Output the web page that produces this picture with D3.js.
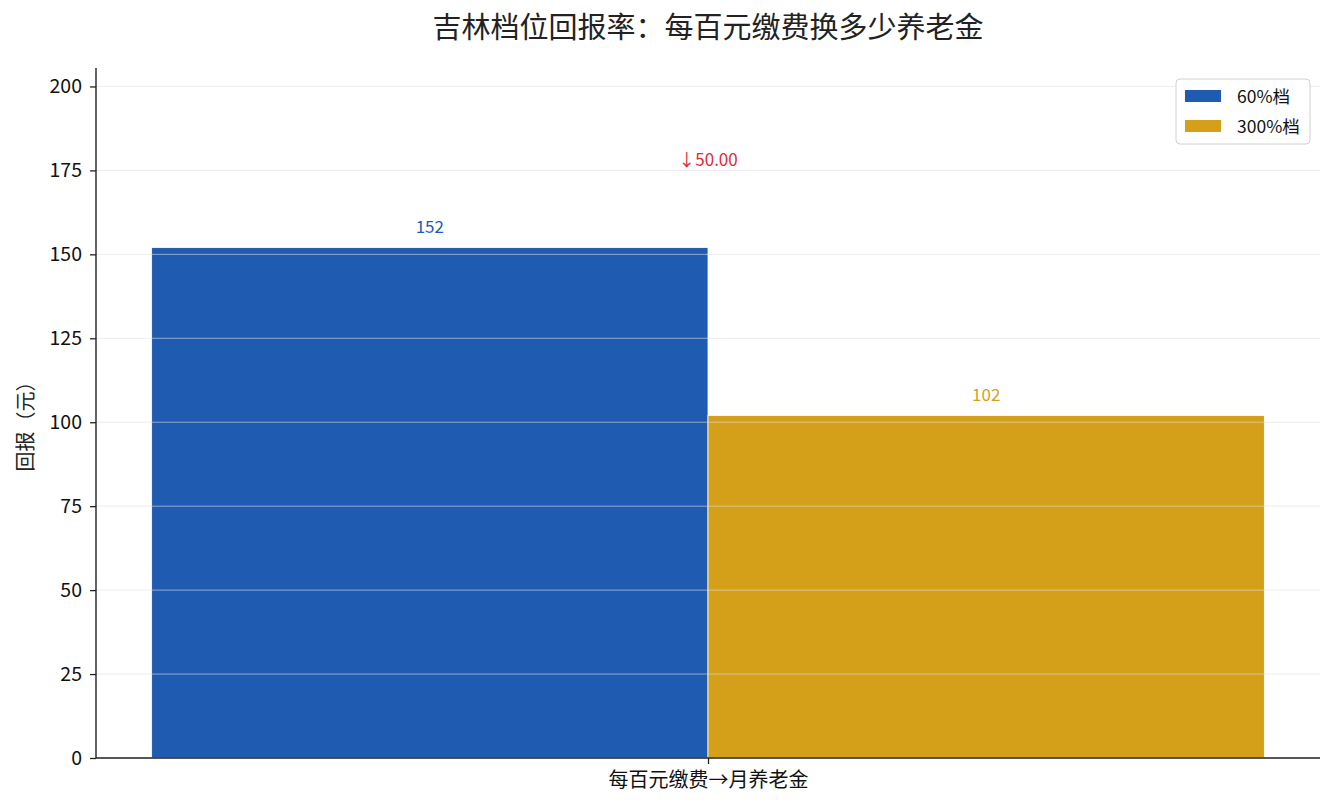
<!DOCTYPE html>
<html>
<head>
<meta charset="utf-8">
<script src="https://cdn.jsdelivr.net/npm/d3@7"></script>
<style>
  body { margin: 0; background: #fff; }
  svg { font-family: "Noto Sans CJK SC", "Noto Sans", sans-serif; }
</style>
</head>
<body>
<svg id="chart" width="1335" height="810"></svg>
<script>
// 数据
const groups = ["每百元缴费→月养老金"];
const seriesNames = ["60%档", "300%档"];
const seriesValues = [152, 102];
const seriesColors = ["#1f5bb0", "#d4a01a"];
const diffLabel = "↓50.00";
const yTicks = [0, 25, 50, 75, 100, 125, 150, 175, 200];

const svg = d3.select("#chart");
const margin = { left: 96, right: 15, top: 69, bottom: 52 };
const W = 1335, H = 810;
const innerW = W - margin.left - margin.right;
const innerH = H - margin.top - margin.bottom;

const g = svg.append("g").attr("transform", `translate(${margin.left},${margin.top})`);

// 比例尺：柱宽0.4，两个柱子并排，左右留边
const barW = 0.4;
const x = d3.scaleLinear().domain([-0.44, 0.44]).range([0, innerW]);
const yMax = d3.max(seriesValues) * 1.35;
const y = d3.scaleLinear().domain([0, yMax]).range([innerH, 0]);

// 柱子
const bars = seriesValues.map((v, i) => ({
  name: seriesNames[i],
  value: v,
  color: seriesColors[i],
  pos: (i - 0.5) * barW
}));

g.selectAll("rect.bar")
  .data(bars)
  .enter()
  .append("rect")
  .attr("class", "bar")
  .attr("x", (d) => x(d.pos - barW / 2))
  .attr("width", (d) => x(d.pos + barW / 2) - x(d.pos - barW / 2))
  .attr("y", (d) => y(d.value))
  .attr("height", (d) => innerH - y(d.value))
  .attr("fill", (d) => d.color)
  .attr("stroke", "#fff")
  .attr("stroke-width", 0.8);

// 网格线（画在柱子上面，半透明）
g.append("g")
  .selectAll("line")
  .data(yTicks)
  .enter()
  .append("line")
  .attr("x1", 0)
  .attr("x2", innerW)
  .attr("y1", (d) => y(d))
  .attr("y2", (d) => y(d))
  .attr("stroke", "#e0e0e0")
  .attr("stroke-opacity", 0.6)
  .attr("stroke-width", 1);

// 数值标签
g.selectAll("text.val")
  .data(bars)
  .enter()
  .append("text")
  .attr("class", "val")
  .attr("x", (d) => x(d.pos))
  .attr("y", (d) => y(d.value) - 15)
  .attr("text-anchor", "middle")
  .style("font-size", "17px")
  .style("fill", (d) => d.color)
  .text((d) => d.value);

// 差值标注
g.append("text")
  .attr("x", x(0))
  .attr("y", y(d3.max(seriesValues) * 1.175) + 8)
  .attr("text-anchor", "middle")
  .style("font-size", "17px")
  .style("fill", "#e02b35")
  .text(diffLabel);

// Y轴
const yAxis = g.append("g")
  .call(d3.axisLeft(y).tickValues(yTicks).tickSize(6).tickPadding(8));
yAxis.select(".domain").attr("stroke", "#222").attr("stroke-width", 1.4)
  .attr("d", `M0,${innerH}V-1`);
yAxis.selectAll(".tick line").attr("stroke", "#222").attr("stroke-width", 1.3);
yAxis.selectAll(".tick text")
  .style("font-size", "19.5px")
  .style("fill", "#111")
  .style("font-family", "'Noto Sans CJK SC', sans-serif");

// X轴
const xAxis = g.append("g")
  .attr("transform", `translate(0,${innerH})`)
  .call(d3.axisBottom(x).tickValues([0]).tickFormat(() => groups[0]).tickSize(6).tickPadding(9));
xAxis.select(".domain").attr("stroke", "#222").attr("stroke-width", 1.4)
  .attr("d", `M0,0H${innerW}`);
xAxis.selectAll(".tick line").attr("stroke", "#222").attr("stroke-width", 1.3);
xAxis.selectAll(".tick text")
  .style("font-size", "20px")
  .style("fill", "#111")
  .style("font-family", "'Noto Sans CJK SC', sans-serif");

// Y轴标题
svg.append("text")
  .attr("transform", `translate(33,${margin.top + innerH / 2 + 8}) rotate(-90)`)
  .attr("text-anchor", "middle")
  .style("font-size", "20px")
  .style("fill", "#222")
  .text("回报（元）");

// 标题
svg.append("text")
  .attr("x", margin.left + innerW / 2)
  .attr("y", 38)
  .attr("text-anchor", "middle")
  .style("font-size", "29px")
  .style("fill", "#222")
  .text("吉林档位回报率：每百元缴费换多少养老金");

// 图例
const legend = svg.append("g").attr("transform", "translate(1176,79)");
legend.append("rect")
  .attr("width", 134)
  .attr("height", 65)
  .attr("rx", 4)
  .attr("fill", "#fff")
  .attr("fill-opacity", 0.85)
  .attr("stroke", "#d0d0d0")
  .attr("stroke-width", 1);
seriesNames.forEach((name, i) => {
  const row = legend.append("g").attr("transform", `translate(9,${11 + i * 30})`);
  row.append("rect").attr("width", 36).attr("height", 12).attr("fill", seriesColors[i]);
  row.append("text")
    .attr("x", 52)
    .attr("y", 13)
    .style("font-size", "17.5px")
    .style("fill", "#111")
    .text(name);
});
</script>
</body>
</html>
